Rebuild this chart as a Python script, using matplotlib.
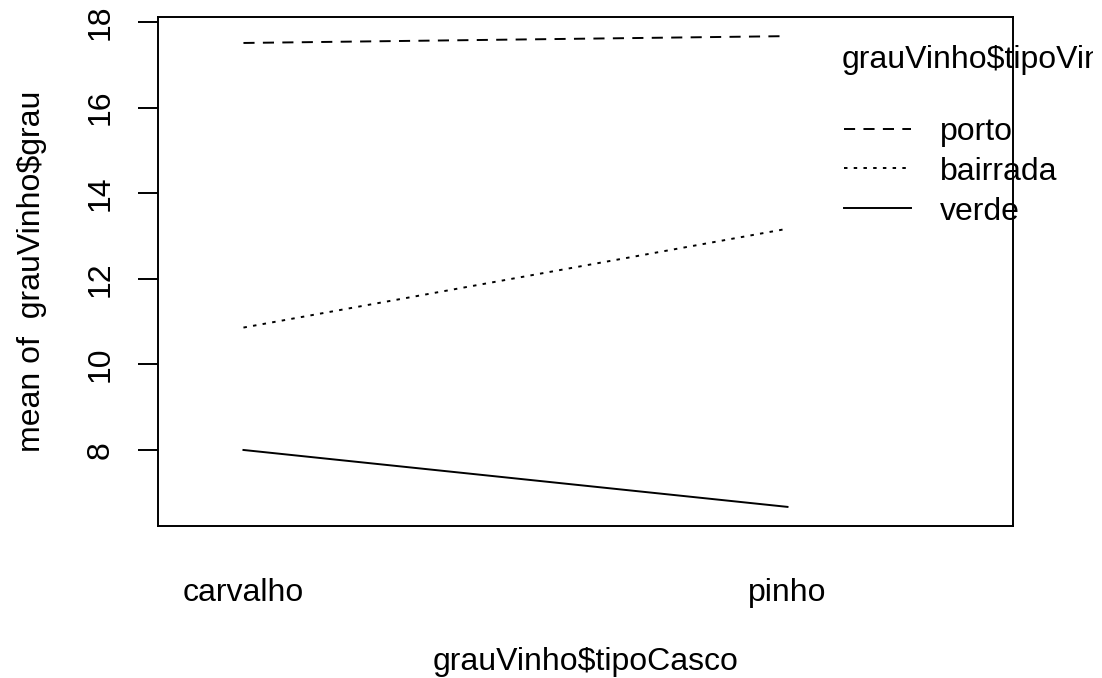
import matplotlib
matplotlib.use('Agg')
import matplotlib.pyplot as plt
from matplotlib.transforms import Bbox

# mean grau by tipoCasco (x) and tipoVinho (trace)
casco = ['carvalho', 'pinho']
porto = [17.51, 17.67]
bairrada = [10.86, 13.17]
verde = [8.0, 6.67]
yticks = [8, 10, 12, 14, 16, 18]

plt.rcParams['font.family'] = ['Liberation Sans', 'DejaVu Sans']
plt.rcParams['font.size'] = 23
plt.rcParams['lines.scale_dashes'] = False

fig = plt.figure(figsize=(11.02, 6.78), dpi=100)
ax = fig.add_axes([0.1434, 0.2246, 0.7761, 0.7499])

xs = [1, 2]
lw = 1.4
l1, = ax.plot(xs, porto, color='black', lw=lw, dashes=(8, 6), label='porto')
l2, = ax.plot(xs, bairrada, color='black', lw=lw, dashes=(2.5, 4.5), label='bairrada')
l3, = ax.plot(xs, verde, color='black', lw=lw, label='verde')

# R style: range extended 4%
ymin = min(verde + bairrada + porto)
ymax = max(verde + bairrada + porto)
span = ymax - ymin
ax.set_ylim(ymin - 0.04 * span, ymax + 0.04 * span)
ax.set_xlim(0.843, 2.415)

ax.set_xticks(xs)
ax.set_xticklabels(casco)
ax.tick_params(axis='x', length=0, pad=38)
ax.set_yticks(yticks)
ax.set_yticklabels([str(v) for v in yticks], rotation=90, va='center')
ax.tick_params(axis='y', length=14.4, width=1.4, pad=16)

for sp in ax.spines.values():
    sp.set_linewidth(1.4)

ax.set_xlabel('grauVinho$tipoCasco', labelpad=28)
ax.set_ylabel('mean of  grauVinho$grau', labelpad=28)

leg = ax.legend(handles=[l1, l2, l3],
                loc='center left', bbox_to_anchor=(0.766, 0.7468),
                bbox_transform=fig.transFigure, frameon=False,
                handlelength=2.1, handletextpad=0.9, labelspacing=0.31,
                borderaxespad=0, borderpad=0, fontsize=23)
leg.set_clip_on(False)
for h in leg.legend_handles:
    h.set_linewidth(lw)

# legend title, cut off at the device edge like in R
title = fig.text(0.7638, 1 - 68 / 678, 'grauVinho$tipoVinho', ha='left', va='baseline')
title.set_clip_box(Bbox.from_extents(0, 0, 1093, 678))
title.set_clip_on(True)

fig.savefig('out.png', dpi=100)
